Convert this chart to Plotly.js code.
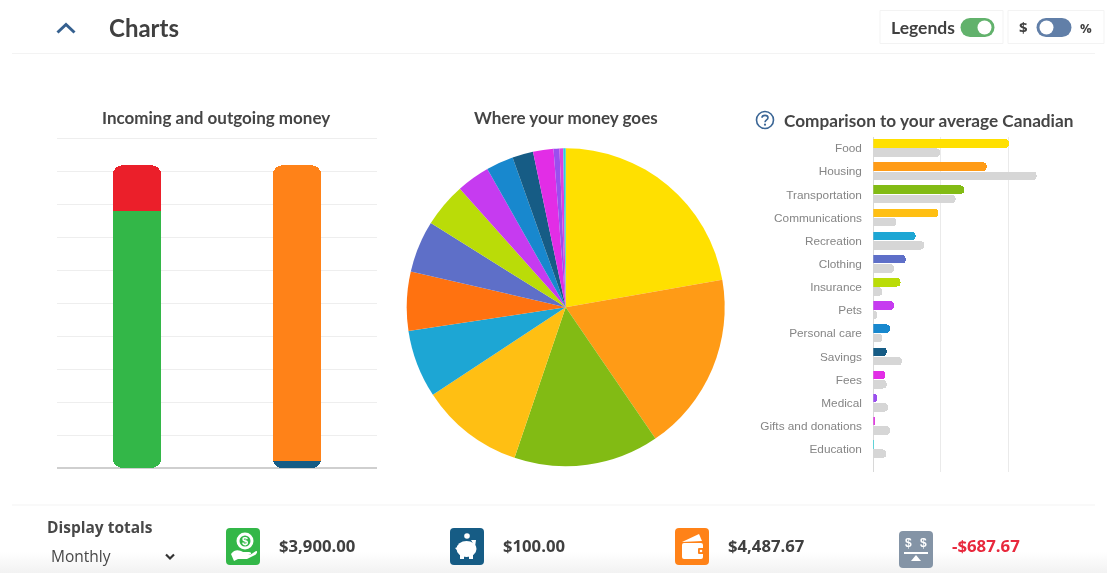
<!DOCTYPE html>
<html>
<head>
<meta charset="utf-8">
<script src="https://cdn.plot.ly/plotly-3.0.1.min.js"></script>
<style>
html,body{margin:0;padding:0;background:#fff;overflow:hidden;width:1107px;height:573px}
#bg{position:absolute;left:0;top:552px;width:1107px;height:21px;background:linear-gradient(#fff,#f2f2f2)}
#chart{position:absolute;left:0;top:0;width:1107px;height:573px;filter:blur(0.7px)}
</style>
</head>
<body>
<div id="bg"></div>
<div id="chart"></div>
<script>
const W = 1107, H = 573;

// Incoming / outgoing stacks
const stackCategories = ["Incoming", "Outgoing"];
const stackBottom = [3900, 100];
const stackTop = [687.67, 4487.67];
const stackBottomColors = ["#33B748", "#165C85"];
const stackTopColors = ["#EB1F2A", "#FF8218"];
const stackMaxTick = 5040;

// Pie slices
const pieLabels = ["Food","Housing","Transportation","Communications","Recreation","Debt","Clothing","Insurance","Pets","Personal care","Savings","Fees","Medical","Gifts and donations","Education"];
const pieValues = [997,818,662,472,309,269,236,203,152,125,95,93,27,17,11];
const pieColors = ["#FFE000","#FF9B16","#82BB14","#FFBF13","#1DA6D4","#FF7210","#5E6FC8","#BADC08","#C63BF0","#1888CE","#165C85","#E22DE6","#9A4FEE","#E040E0","#2ED0D8"];

// Comparison bars
const compCategories = ["Food","Housing","Transportation","Communications","Recreation","Clothing","Insurance","Pets","Personal care","Savings","Fees","Medical","Gifts and donations","Education"];
const compYou = [1005,840,674,481,313,240,202,153,123,99,89,30,15,8];
const compAverage = [494,1210,610,170,378,153,67,30,67,212,99,109,123,96];
const compColors = ["#FFE000","#FF9B16","#82BB14","#FFBF13","#1DA6D4","#5E6FC8","#BADC08","#C63BF0","#1888CE","#165C85","#E22DE6","#9A4FEE","#E040E0","#2ED0D8"];

// Totals row
const totalsText = ["$3,900.00","$100.00","$4,487.67","-$687.67"];

const px = x => x / W;
const py = y => 1 - y / H;
const clear = "rgba(0,0,0,0)";
const stackTotal = stackBottom[0] + stackTop[0];

function svg(w, h, body){
  return "data:image/svg+xml;utf8," + encodeURIComponent(
    `<svg xmlns="http://www.w3.org/2000/svg" width="${w}" height="${h}" viewBox="0 0 ${w} ${h}">${body}</svg>`);
}
function img(x, y, w, h, body){
  return {source: svg(w*4, h*4, `<g transform="scale(4)">${body}</g>`), xref:"paper", yref:"paper",
    x: px(x), y: py(y), sizex: w/W, sizey: h/H, xanchor:"left", yanchor:"top", sizing:"stretch", layer:"above"};
}
function note(text, x, y, size, color, family, bold, anchor){
  return {text: bold ? `<b>${text}</b>` : text, xref:"paper", yref:"paper", x: px(anchor ? x : x-2), y: py(y), xanchor: anchor||"left", yanchor:"middle",
    showarrow:false, align:"left", font:{size, color, family}};
}
function box(x0,y0,x1,y1,color){
  return {type:"rect", xref:"paper", yref:"paper", x0:px(x0), x1:px(x1), y0:py(y0), y1:py(y1), line:{color, width:1}, fillcolor:"rgba(0,0,0,0)", layer:"below"};
}
function hline(x0,x1,y,color){
  return {type:"line", xref:"paper", yref:"paper", x0:px(x0), x1:px(x1), y0:py(y), y1:py(y), line:{color, width:1}, layer:"below"};
}

const stackShared = {type:"bar", x:stackCategories, width:0.305, hoverinfo:"skip", showlegend:false};
const compShared = {type:"bar", orientation:"h", y:compCategories, width:0.37, hoverinfo:"skip", showlegend:false};

const data = [
  // upper segments, rounded at the top of the stack
  Object.assign({}, stackShared, {y:stackBottom, xaxis:"x", yaxis:"y", marker:{color:clear, cornerradius:10}}),
  Object.assign({}, stackShared, {y:stackTop, xaxis:"x", yaxis:"y", marker:{color:stackTopColors, cornerradius:10}}),
  // lower segments on a flipped axis, so that they round at the bottom
  Object.assign({}, stackShared, {y:stackTop, xaxis:"x", yaxis:"y3", marker:{color:clear, cornerradius:10}}),
  Object.assign({}, stackShared, {y:stackBottom, xaxis:"x", yaxis:"y3", marker:{color:stackBottomColors, cornerradius:10}}),
  {type:"pie", labels:pieLabels, values:pieValues, sort:false, direction:"clockwise", rotation:0,
   marker:{colors:pieColors, line:{width:0}}, textinfo:"none", hoverinfo:"skip", showlegend:false,
   domain:{x:[px(406.7),px(724.7)], y:[py(466.3),py(148.3)]}},
  Object.assign({}, compShared, {x:compYou, xaxis:"x2", yaxis:"y2", offset:-0.385, marker:{color:compColors, cornerradius:4}}),
  Object.assign({}, compShared, {x:compAverage, xaxis:"x2", yaxis:"y4", offset:0.015, marker:{color:"#D6D6D6", cornerradius:4}})
];

const compY = {type:"category", categoryorder:"array", categoryarray:compCategories, range:[13.97,-0.5]};

const layout = {
  width:W, height:H, margin:{l:0,r:0,t:0,b:0}, paper_bgcolor:"rgba(0,0,0,0)", plot_bgcolor:"rgba(0,0,0,0)",
  barmode:"stack", showlegend:false,
  xaxis:{domain:[px(57),px(377)], type:"category", range:[-0.5,1.5], showticklabels:false, ticks:"", showgrid:false, zeroline:false, showline:false, anchor:"y"},
  yaxis:{domain:[py(468),py(135.36)], range:[0,stackMaxTick], dtick:500, showticklabels:false, ticks:"", gridcolor:"#EEEEEE", gridwidth:1, zeroline:true, zerolinecolor:"#CFCFCF", zerolinewidth:1.5, anchor:"x"},
  yaxis3:{overlaying:"y", range:[stackTotal, stackTotal-stackMaxTick], visible:false, anchor:"x"},
  xaxis2:{domain:[px(873.3),px(1075.8)], range:[0,1500], dtick:500, showticklabels:false, ticks:"", gridcolor:"#EAEAEA", gridwidth:1, zeroline:true, zerolinecolor:"#D8D8D8", zerolinewidth:1.5, anchor:"y2"},
  yaxis2:Object.assign({domain:[py(471.5),py(136.5)], anchor:"x2", showgrid:false, zeroline:false, ticks:"outside", ticklen:8, tickcolor:clear,
    tickfont:{family:"Liberation Sans, Arial, sans-serif", size:11.8, color:"#858585"}}, compY),
  yaxis4:Object.assign({overlaying:"y2", anchor:"x2", visible:false}, compY),
  shapes:[
    hline(12,1095,53.5,"#F3F3F3"),
    hline(12,1095,505,"#F3F3F3"),
    box(880,10.5,1003,43.5,"#F3F3F3"),
    box(1008,10.5,1104,43.5,"#F3F3F3")
  ],
  images:[
    img(55,20,22,16,'<path d="M2.5 12.5 L11 4.5 L19.5 12.5" fill="none" stroke="#35608F" stroke-width="3"/>'),
    img(960,17,35,21,'<rect x="0.5" y="1" width="34" height="19" rx="9.5" fill="#62B26C"/><circle cx="24.5" cy="10.5" r="7" fill="#fff"/>'),
    img(1036,17,36,21,'<rect x="0.5" y="1" width="35" height="19" rx="9.5" fill="#617FA8"/><circle cx="10.5" cy="10.5" r="7" fill="#fff"/>'),
    img(755,110,20,20,'<circle cx="10" cy="10" r="8.5" fill="none" stroke="#3A6595" stroke-width="1.6"/><path d="M7 7.8 C7 4.6 13 4.6 13 7.8 C13 10 10 9.8 10 12.3" fill="none" stroke="#3A6595" stroke-width="1.6"/><circle cx="10" cy="14.7" r="1.1" fill="#3A6595"/>'),
    img(162,551,16,12,'<path d="M4 3.5 L8 7.5 L12 3.5" fill="none" stroke="#333" stroke-width="2.2"/>'),
    img(226,528,34,37,'<rect width="34" height="37" rx="4" fill="#33B748"/><circle cx="19" cy="13" r="7" fill="none" stroke="#fff" stroke-width="3"/><text x="19" y="17" text-anchor="middle" font-family="Liberation Sans" font-size="11" font-weight="bold" fill="#fff">$</text><path d="M5 26 C9 21 13 22 17 24 L23 24 C26 24 26 27 22 27 L17 27 L24 27 L30 23 C32 23 31 26 29 27 L21 31 L12 31 L8 33 Z" fill="#fff"/>'),
    img(450,528,34,37,'<rect width="34" height="37" rx="4" fill="#165C85"/><circle cx="17" cy="8" r="2.8" fill="#fff"/><ellipse cx="16.5" cy="21" rx="10" ry="8" fill="#fff"/><path d="M21 12 L26 12 L25 19 Z M5 20 L8 19 L8 23 Z" fill="#fff"/><rect x="10" y="26" width="4" height="5" fill="#fff"/><rect x="19" y="26" width="4" height="5" fill="#fff"/>'),
    img(675,528,34,37,'<rect width="34" height="37" rx="4" fill="#FF8218"/><path d="M7 14 L24 6 L27 13 Z" fill="#fff"/><rect x="7" y="15" width="21" height="16" rx="2" fill="#fff"/><rect x="23" y="20" width="7" height="6" rx="1" fill="#FF8218"/><circle cx="26" cy="23" r="1.3" fill="#fff"/>'),
    img(899,531,34,37,'<rect width="34" height="37" rx="4" fill="#8494A6"/><text x="6" y="16" font-family="Liberation Sans" font-size="12" font-weight="bold" fill="#fff">$</text><text x="21" y="16" font-family="Liberation Sans" font-size="12" font-weight="bold" fill="#fff">$</text><rect x="5" y="21" width="24" height="2" fill="#fff"/><path d="M17 24 L22 30 L12 30 Z" fill="#fff"/>')
  ],
  annotations:[
    note("Charts",109,28,24,"#404040","Lato",true),
    note("Legends",891,27.5,17.5,"#404040","Lato",true),
    note("$",1019,27.5,15,"#404040","Open Sans",true),
    note("%",1080,28,13,"#404040","Open Sans",true),
    note("Incoming and outgoing money",216,117,17,"#454545","Lato",true,"center"),
    note("Where your money goes",566,117,17,"#454545","Lato",true,"center"),
    note("Comparison to your average Canadian",784,121,17.2,"#454545","Lato",true),
    note("Display totals",47,527,15.5,"#484848","Open Sans",true),
    note("Monthly",51,556,15.5,"#484848","Open Sans",false),
    note(totalsText[0],279,545,16.7,"#404040","Open Sans",true),
    note(totalsText[1],503,545,16.7,"#404040","Open Sans",true),
    note(totalsText[2],728,545,16.7,"#404040","Open Sans",true),
    note(totalsText[3],952,545,16.8,"#E8283C","Open Sans",true)
  ]
};

Plotly.newPlot("chart", data, layout, {displayModeBar:false, staticPlot:true});
</script>
</body>
</html>
